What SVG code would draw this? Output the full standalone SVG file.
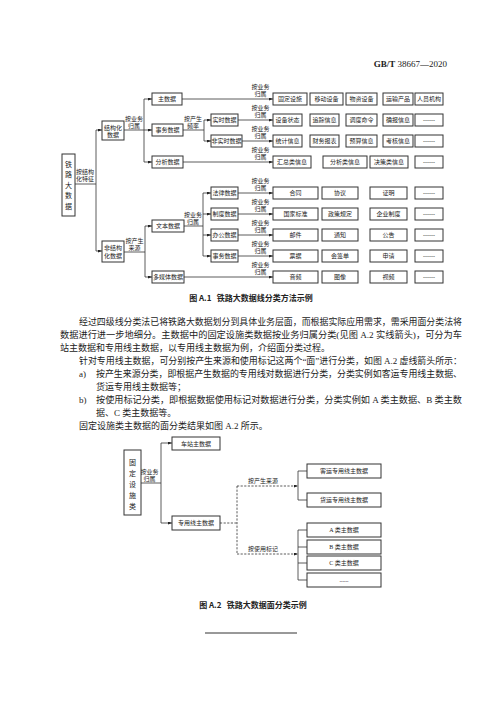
<svg xmlns="http://www.w3.org/2000/svg" width="500" height="707" viewBox="0 0 500 707">
<defs>
<marker id="ar" markerWidth="4" markerHeight="3" refX="4" refY="1.5" orient="auto" markerUnits="userSpaceOnUse"><path d="M0,0 L4,1.5 L0,3 z" fill="#222"/></marker>
<style>
.bx{fill:#fff;stroke:#333;stroke-width:1}
.ln{fill:none;stroke:#333;stroke-width:0.8}
.ar{marker-end:url(#ar)}
.dl{fill:none;stroke:#333;stroke-width:0.8;stroke-dasharray:2.2,1.4}
.t{font-family:"Liberation Serif","Noto Sans CJK SC",serif;font-size:6px;fill:#222;text-anchor:middle}
.v{font-family:"Liberation Serif","Noto Sans CJK SC",serif;font-size:7px;fill:#222;text-anchor:middle}
.p{font-family:"Liberation Serif","Noto Sans CJK SC",serif;font-size:9px;fill:#222}
.cap{font-family:"Noto Sans CJK SC",sans-serif;font-size:8px;font-weight:bold;fill:#222;text-anchor:middle}
</style>
</defs>
<rect width="500" height="707" fill="#fff"/>

<text x="447" y="67" text-anchor="end" font-family="Liberation Serif,serif" font-size="9" fill="#222"><tspan font-weight="bold">GB/T</tspan> 38667—2020</text>

<!-- Figure A.1 connectors -->
<g id="connectors-a1">
<path class="ln" d="M75,184 H96 M96,130 V251"/>
<path class="ln ar" d="M96,130 H102"/>
<path class="ln ar" d="M96,251 H102"/>
<path class="ln" d="M124,130 H144 M144,99 V162"/>
<path class="ln ar" d="M144,99 H152"/>
<path class="ln ar" d="M144,130 H152"/>
<path class="ln ar" d="M144,162 H152"/>
<path class="ln ar" d="M182,99 H273"/>
<path class="ln" d="M183,130 H204 M204,120 V141"/>
<path class="ln ar" d="M204,120 H211"/>
<path class="ln ar" d="M204,141 H211"/>
<path class="ln ar" d="M238,120 H273"/>
<path class="ln ar" d="M242,141 H273"/>
<path class="ln ar" d="M183,162 H273"/>
<path class="ln" d="M124,252 H145 M145,226 V277"/>
<path class="ln ar" d="M145,226 H152"/>
<path class="ln ar" d="M145,277 H152"/>
<path class="ln" d="M184,226 H203 M203,193 V256"/>
<path class="ln ar" d="M203,193 H211"/>
<path class="ln ar" d="M203,214 H211"/>
<path class="ln ar" d="M203,235 H211"/>
<path class="ln ar" d="M203,256 H211"/>
<path class="ln ar" d="M238,193 H273"/>
<path class="ln ar" d="M238,214 H273"/>
<path class="ln ar" d="M238,235 H273"/>
<path class="ln ar" d="M238,256 H273"/>
<path class="ln ar" d="M184,277 H273"/>
</g>

<g id="labels-a1">
<text class="t" x="85" y="174">按结构</text><text class="t" x="85" y="180.5">化特征</text>
<text class="t" x="134" y="121">按业务</text><text class="t" x="134" y="127.5">归属</text>
<text class="t" x="193" y="121">按产生</text><text class="t" x="193" y="127.5">频率</text>
<text class="t" x="260.5" y="89">按业务</text><text class="t" x="260.5" y="95.5">归属</text>
<text class="t" x="260.5" y="110">按业务</text><text class="t" x="260.5" y="116.5">归属</text>
<text class="t" x="260.5" y="131">按业务</text><text class="t" x="260.5" y="137.5">归属</text>
<text class="t" x="260.5" y="152">按业务</text><text class="t" x="260.5" y="158.5">归属</text>
<text class="t" x="134.5" y="243">按产生</text><text class="t" x="134.5" y="249.5">来源</text>
<text class="t" x="193" y="217">按业务</text><text class="t" x="193" y="223.5">归属</text>
<text class="t" x="260.5" y="183">按业务</text><text class="t" x="260.5" y="189.5">归属</text>
<text class="t" x="260.5" y="204">按业务</text><text class="t" x="260.5" y="210.5">归属</text>
<text class="t" x="260.5" y="225">按业务</text><text class="t" x="260.5" y="231.5">归属</text>
<text class="t" x="260.5" y="246">按业务</text><text class="t" x="260.5" y="252.5">归属</text>
<text class="t" x="260.5" y="267">按业务</text><text class="t" x="260.5" y="273.5">归属</text>
</g>

<!-- Figure A.1 nodes -->
<g id="n-root"><rect class="bx" x="62" y="154" width="13" height="62"/>
<text class="v" x="68.5" y="166.5">铁</text><text class="v" x="68.5" y="177">路</text><text class="v" x="68.5" y="187.5">大</text><text class="v" x="68.5" y="198">数</text><text class="v" x="68.5" y="208.5">据</text></g>
<g id="n-struct"><rect class="bx" x="102" y="121" width="22" height="19"/><text class="t" x="113" y="129.5">结构化</text><text class="t" x="113" y="137">数据</text></g>
<g id="n-unstruct"><rect class="bx" x="102" y="241" width="22" height="21"/><text class="t" x="113" y="250">非结构</text><text class="t" x="113" y="258">化数据</text></g>
<g id="n-main"><rect class="bx" x="152" y="93" width="30" height="12"/><text class="t" x="167" y="101.2">主数据</text></g>
<g id="n-affair"><rect class="bx" x="152" y="124" width="31" height="12"/><text class="t" x="167.5" y="132.2">事务数据</text></g>
<g id="n-analysis"><rect class="bx" x="152" y="156" width="31" height="12"/><text class="t" x="167.5" y="164.2">分析数据</text></g>
<g id="n-realtime"><rect class="bx" x="211" y="114" width="27" height="12"/><text class="t" x="224.5" y="122.2">实时数据</text></g>
<g id="n-nonrt"><rect class="bx" x="211" y="135" width="31" height="12"/><text class="t" x="226.5" y="143.2">非实时数据</text></g>

<g id="row-main">
<g id="n-r1c1"><rect class="bx" x="273" y="93" width="34" height="12"/><text class="t" x="290" y="101.2">固定设施</text></g>
<g id="n-r1c2"><rect class="bx" x="310" y="93" width="33" height="12"/><text class="t" x="326.5" y="101.2">移动设备</text></g>
<g id="n-r1c3"><rect class="bx" x="346" y="93" width="31" height="12"/><text class="t" x="361.5" y="101.2">物资设备</text></g>
<g id="n-r1c4"><rect class="bx" x="383" y="93" width="30" height="12"/><text class="t" x="398" y="101.2">运输产品</text></g>
<g id="n-r1c5"><rect class="bx" x="415" y="93" width="28" height="12"/><text class="t" x="429" y="101.2">人员机构</text></g>
</g>
<g id="row-rt">
<g id="n-r2c1"><rect class="bx" x="273" y="114" width="29" height="12"/><text class="t" x="287.5" y="122.2">设备状态</text></g>
<g id="n-r2c2"><rect class="bx" x="310" y="114" width="29" height="12"/><text class="t" x="324.5" y="122.2">追踪信息</text></g>
<g id="n-r2c3"><rect class="bx" x="346" y="114" width="31" height="12"/><text class="t" x="361.5" y="122.2">调度命令</text></g>
<g id="n-r2c4"><rect class="bx" x="383" y="114" width="30" height="12"/><text class="t" x="398" y="122.2">确报信息</text></g>
<g id="n-r2c5"><rect class="bx" x="415" y="114" width="28" height="12"/><text class="t" x="429" y="122.2">------</text></g>
</g>
<g id="row-nrt">
<g id="n-r3c1"><rect class="bx" x="273" y="135" width="29" height="12"/><text class="t" x="287.5" y="143.2">统计信息</text></g>
<g id="n-r3c2"><rect class="bx" x="310" y="135" width="29" height="12"/><text class="t" x="324.5" y="143.2">财务报表</text></g>
<g id="n-r3c3"><rect class="bx" x="346" y="135" width="31" height="12"/><text class="t" x="361.5" y="143.2">预算信息</text></g>
<g id="n-r3c4"><rect class="bx" x="383" y="135" width="30" height="12"/><text class="t" x="398" y="143.2">考核信息</text></g>
<g id="n-r3c5"><rect class="bx" x="415" y="135" width="28" height="12"/><text class="t" x="429" y="143.2">------</text></g>
</g>
<g id="row-analysis">
<g id="n-r4c1"><rect class="bx" x="273" y="156" width="38" height="12"/><text class="t" x="292" y="164.2">汇总类信息</text></g>
<g id="n-r4c2"><rect class="bx" x="323" y="156" width="44" height="12"/><text class="t" x="345" y="164.2">分析类信息</text></g>
<g id="n-r4c3"><rect class="bx" x="370" y="156" width="38" height="12"/><text class="t" x="389" y="164.2">决策类信息</text></g>
<g id="n-r4c4"><rect class="bx" x="415" y="156" width="28" height="12"/><text class="t" x="429" y="164.2">------</text></g>
</g>

<g id="n-text"><rect class="bx" x="152" y="220" width="32" height="12"/><text class="t" x="168" y="228.2">文本数据</text></g>
<g id="n-media"><rect class="bx" x="152" y="271" width="32" height="12"/><text class="t" x="168" y="279.2">多媒体数据</text></g>
<g id="n-law"><rect class="bx" x="211" y="187" width="27" height="12"/><text class="t" x="224.5" y="195.2">法律数据</text></g>
<g id="n-rule"><rect class="bx" x="211" y="208" width="27" height="12"/><text class="t" x="224.5" y="216.2">制度数据</text></g>
<g id="n-office"><rect class="bx" x="211" y="229" width="27" height="12"/><text class="t" x="224.5" y="237.2">办公数据</text></g>
<g id="n-affair2"><rect class="bx" x="211" y="250" width="27" height="12"/><text class="t" x="224.5" y="258.2">事务数据</text></g>

<g id="row-law">
<g id="n-b1c1"><rect class="bx" x="273" y="187" width="45" height="12"/><text class="t" x="295.5" y="195.2">合同</text></g>
<g id="n-b1c2"><rect class="bx" x="322" y="187" width="36" height="12"/><text class="t" x="340" y="195.2">协议</text></g>
<g id="n-b1c3"><rect class="bx" x="370" y="187" width="37" height="12"/><text class="t" x="388.5" y="195.2">证明</text></g>
<g id="n-b1c4"><rect class="bx" x="415" y="187" width="28" height="12"/><text class="t" x="429" y="195.2">------</text></g>
</g>
<g id="row-rule">
<g id="n-b2c1"><rect class="bx" x="273" y="208" width="45" height="12"/><text class="t" x="295.5" y="216.2">国家标准</text></g>
<g id="n-b2c2"><rect class="bx" x="322" y="208" width="36" height="12"/><text class="t" x="340" y="216.2">政策规定</text></g>
<g id="n-b2c3"><rect class="bx" x="370" y="208" width="37" height="12"/><text class="t" x="388.5" y="216.2">企业制度</text></g>
<g id="n-b2c4"><rect class="bx" x="415" y="208" width="28" height="12"/><text class="t" x="429" y="216.2">------</text></g>
</g>
<g id="row-office">
<g id="n-b3c1"><rect class="bx" x="273" y="229" width="45" height="12"/><text class="t" x="295.5" y="237.2">邮件</text></g>
<g id="n-b3c2"><rect class="bx" x="322" y="229" width="36" height="12"/><text class="t" x="340" y="237.2">通知</text></g>
<g id="n-b3c3"><rect class="bx" x="370" y="229" width="37" height="12"/><text class="t" x="388.5" y="237.2">公告</text></g>
<g id="n-b3c4"><rect class="bx" x="415" y="229" width="28" height="12"/><text class="t" x="429" y="237.2">------</text></g>
</g>
<g id="row-affair2">
<g id="n-b4c1"><rect class="bx" x="273" y="250" width="45" height="12"/><text class="t" x="295.5" y="258.2">票据</text></g>
<g id="n-b4c2"><rect class="bx" x="322" y="250" width="36" height="12"/><text class="t" x="340" y="258.2">会签单</text></g>
<g id="n-b4c3"><rect class="bx" x="370" y="250" width="37" height="12"/><text class="t" x="388.5" y="258.2">申请</text></g>
<g id="n-b4c4"><rect class="bx" x="415" y="250" width="28" height="12"/><text class="t" x="429" y="258.2">------</text></g>
</g>
<g id="row-media">
<g id="n-b5c1"><rect class="bx" x="273" y="271" width="45" height="12"/><text class="t" x="295.5" y="279.2">音频</text></g>
<g id="n-b5c2"><rect class="bx" x="322" y="271" width="36" height="12"/><text class="t" x="340" y="279.2">图像</text></g>
<g id="n-b5c3"><rect class="bx" x="370" y="271" width="37" height="12"/><text class="t" x="388.5" y="279.2">视频</text></g>
<g id="n-b5c4"><rect class="bx" x="415" y="271" width="28" height="12"/><text class="t" x="429" y="279.2">------</text></g>
</g>

<text class="cap" x="251" y="301" xml:space="preserve">图 A.1   铁路大数据线分类方法示例</text>

<!-- body text -->
<g id="body">
<text class="p" x="79" y="324.5" textLength="383" lengthAdjust="spacingAndGlyphs">经过四级线分类法已将铁路大数据划分到具体业务层面，而根据实际应用需求，需采用面分类法将</text>
<text class="p" x="60" y="337.5" textLength="402" lengthAdjust="spacingAndGlyphs">数据进行进一步地细分。主数据中的固定设施类数据按业务归属分类(见图 A.2 实线箭头)，可分为车</text>
<text class="p" x="60" y="350.5">站主数据和专用线主数据，以专用线主数据为例，介绍面分类过程。</text>
<text class="p" x="79" y="363.5" textLength="383" lengthAdjust="spacingAndGlyphs">针对专用线主数据，可分别按产生来源和使用标记这两个“面”进行分类，如图 A.2 虚线箭头所示：</text>
<text class="p" x="79" y="376.5">a)</text>
<text class="p" x="96" y="376.5" textLength="366" lengthAdjust="spacingAndGlyphs">按产生来源分类，即根据产生数据的专用线对数据进行分类，分类实例如客运专用线主数据、</text>
<text class="p" x="96" y="389.5">货运专用线主数据等；</text>
<text class="p" x="79" y="402.5">b)</text>
<text class="p" x="96" y="402.5" textLength="366" lengthAdjust="spacingAndGlyphs">按使用标记分类，即根据数据使用标记对数据进行分类，分类实例如 A 类主数据、B 类主数</text>
<text class="p" x="96" y="415.5">据、C 类主数据等。</text>
<text class="p" x="79" y="428.5">固定设施类主数据的面分类结果如图 A.2 所示。</text>
</g>

<!-- Figure A.2 connectors -->
<g id="connectors-a2">
<path class="ln" d="M141,483 H161 M161,443 V523"/>
<path class="ln ar" d="M161,443 H172"/>
<path class="ln ar" d="M161,523 H172"/>
<path class="dl" d="M220,523 H237 M237,486 V554"/>
<path class="dl ar" d="M237,486 H298"/>
<path class="dl ar" d="M237,554 H298"/>
<path class="ln" d="M298,471 V500 M298,471 H307 M298,500 H307"/>
<path class="ln" d="M298,530 V580 M298,530 H307 M298,547 H307 M298,563 H307 M298,580 H307"/>
</g>
<g id="labels-a2">
<text class="t" x="149.5" y="473.5">按业务</text><text class="t" x="149.5" y="480.5">归属</text>
<text class="t" x="263" y="483">按产生来源</text>
<text class="t" x="263" y="551">按使用标记</text>
</g>

<g id="n-fixed"><rect class="bx" x="124" y="450" width="17" height="65"/>
<text class="v" x="132.5" y="464.5">固</text><text class="v" x="132.5" y="475.5">定</text><text class="v" x="132.5" y="486.5">设</text><text class="v" x="132.5" y="497.5">施</text><text class="v" x="132.5" y="508.5">类</text></g>
<g id="n-station"><rect class="bx" x="172" y="437" width="48" height="13"/><text class="t" x="196" y="445.7">车站主数据</text></g>
<g id="n-special"><rect class="bx" x="172" y="516" width="48" height="14"/><text class="t" x="196" y="525.2">专用线主数据</text></g>
<g id="n-passenger"><rect class="bx" x="307" y="464" width="74" height="14"/><text class="t" x="344" y="473.2">客运专用线主数据</text></g>
<g id="n-freight"><rect class="bx" x="307" y="493" width="74" height="14"/><text class="t" x="344" y="502.2">货运专用线主数据</text></g>
<g id="n-a"><rect class="bx" x="307" y="523" width="74" height="14"/><text class="t" x="344" y="532.2">A 类主数据</text></g>
<g id="n-b"><rect class="bx" x="307" y="540" width="74" height="14"/><text class="t" x="344" y="549.2">B 类主数据</text></g>
<g id="n-c"><rect class="bx" x="307" y="556" width="74" height="14"/><text class="t" x="344" y="565.2">C 类主数据</text></g>
<g id="n-more"><rect class="bx" x="307" y="573" width="74" height="14"/><text class="t" x="344" y="582.2">......</text></g>

<text class="cap" x="253" y="608" xml:space="preserve">图 A.2   铁路大数据面分类示例</text>
<line x1="205" y1="633" x2="297" y2="633" stroke="#333" stroke-width="1"/>
</svg>
